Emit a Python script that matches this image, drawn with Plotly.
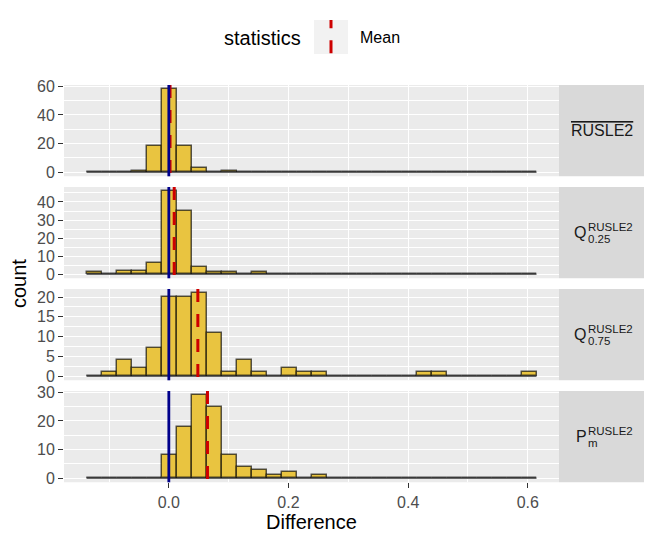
import plotly.graph_objects as go

# histogram bins (shared x scale)
bin_left = -0.1376
bin_width = 0.02507
n_bins = 30

panel_names = ["mean", "q25", "q75", "pm"]

counts_mean = [0, 0, 0, 1, 18, 58, 18, 3, 0, 1] + [0] * 20
counts_q25 = [1, 0, 2, 2, 6, 46, 35, 4, 1, 1, 0, 1] + [0] * 18
counts_q75 = [0, 1, 4, 2, 7, 20, 20, 21, 11, 1, 4, 1, 0, 2, 1, 1,
              0, 0, 0, 0, 0, 0, 1, 1, 0, 0, 0, 0, 0, 1]
counts_pm = [0, 0, 0, 0, 0, 8, 18, 29, 25, 8, 4, 3, 1, 2, 0, 1] + [0] * 14

mean_values = [0.002, 0.009, 0.0485, 0.0646]
reference_value = 0.0

y_dticks = [20, 10, 5, 10]
x_ticks = [0.0, 0.2, 0.4, 0.6]

all_counts = [counts_mean, counts_q25, counts_q75, counts_pm]
centers = [bin_left + (i + 0.5) * bin_width for i in range(n_bins)]
edges = [bin_left, bin_left + n_bins * bin_width]

# the page puts the figure 8px in from the corner, so the figure is
# made 8px smaller and positions below are given in window pixels
OFF = 8
W, H = 654 - OFF, 544 - OFF
FONT = "Liberation Sans"
panel_x0, panel_x1 = 64, 559
strip_x1 = 644
panel_top0, panel_h, panel_gap = 85, 91.3, 10.7


def px(x):
    return (x - OFF) / W


def py(y):
    return 1 - (y - OFF) / H


fig = go.Figure()

xr = edges[1] - edges[0]
x_range = [edges[0] - 0.05 * xr, edges[1] + 0.05 * xr]

for k, cnt in enumerate(all_counts):
    n = "" if k == 0 else str(k + 1)
    top = panel_top0 + k * (panel_h + panel_gap)
    dom = [py(top + panel_h), py(top)]
    ymax = max(cnt)

    # baseline formed by the empty bins
    fig.add_trace(go.Scatter(
        x=edges, y=[0, 0], mode="lines", xaxis="x" + n, yaxis="y" + n,
        line=dict(color="rgba(0,0,0,0.6)", width=1.5), hoverinfo="skip",
        showlegend=False))
    fig.add_trace(go.Bar(
        x=centers, y=cnt, width=bin_width, xaxis="x" + n, yaxis="y" + n,
        marker=dict(color="rgb(233,196,64)",
                    line=dict(color="rgba(0,0,0,0.65)", width=1.5)),
        showlegend=False))

    fig.update_layout({
        "xaxis" + n: dict(
            domain=[px(panel_x0), px(panel_x1)], range=x_range,
            anchor="y" + n, tickvals=x_ticks,
            tickformat=".1f", showticklabels=(k == 3),
            ticks="outside" if k == 3 else "", ticklen=5, tickwidth=1,
            tickcolor="#333333", showgrid=True, gridcolor="white",
            gridwidth=1.3, zeroline=False, showline=False, automargin=False,
            minor=dict(dtick=0.1, tick0=0, showgrid=True,
                       gridcolor="white", gridwidth=0.7),
            tickfont=dict(family=FONT, size=16, color="#4D4D4D")),
        "yaxis" + n: dict(
            domain=dom, range=[-0.05 * ymax, 1.05 * ymax], anchor="x" + n,
            dtick=y_dticks[k], tick0=0, ticks="outside", ticklen=5,
            tickwidth=1, tickcolor="#333333", showgrid=True,
            gridcolor="white", gridwidth=1.3, zeroline=False, automargin=False,
            minor=dict(dtick=y_dticks[k] / 2, tick0=0, showgrid=True,
                       gridcolor="white", gridwidth=0.7),
            tickfont=dict(family=FONT, size=16, color="#4D4D4D")),
    })

    # panel background and strip
    fig.add_shape(type="rect", xref="paper", yref="paper", layer="below",
                  x0=px(panel_x0), x1=px(panel_x1), y0=dom[0], y1=dom[1],
                  fillcolor="#EBEBEB", line_width=0)
    fig.add_shape(type="rect", xref="paper", yref="paper",
                  x0=px(panel_x1), x1=px(strip_x1), y0=dom[0], y1=dom[1],
                  fillcolor="#D9D9D9", line_width=0)

    # mean and zero lines
    fig.add_shape(type="line", xref="x" + n, yref="y" + n + " domain",
                  x0=mean_values[k], x1=mean_values[k], y0=1, y1=0,
                  line=dict(color="#CD0000", width=3, dash="13px,12px"))
    fig.add_shape(type="line", xref="x" + n, yref="y" + n + " domain",
                  x0=reference_value, x1=reference_value, y0=0, y1=1,
                  line=dict(color="#00008B", width=2.8))

    # strip labels
    cy = py(top + panel_h / 2)
    if k == 0:
        fig.add_annotation(
            x=px((panel_x1 + strip_x1) / 2), y=cy, xref="paper", yref="paper",
            text='<span style="text-decoration:overline">RUSLE2</span>',
            xanchor="center", yanchor="middle", showarrow=False,
            font=dict(family=FONT, size=16, color="#1A1A1A"))
    else:
        base = "Q" if k < 3 else "P"
        sub = ["", "0.25", "0.75", "m"][k]
        fig.add_annotation(
            x=px(572 if k < 3 else 574), y=cy, xref="paper", yref="paper",
            text=base, xanchor="left", yanchor="middle", showarrow=False,
            font=dict(family=FONT, size=16, color="#1A1A1A"))
        fig.add_annotation(
            x=px(586), y=cy + 6 / H, xref="paper", yref="paper",
            text="RUSLE2", xanchor="left", yanchor="middle", showarrow=False,
            font=dict(family=FONT, size=11.5, color="#1A1A1A"))
        fig.add_annotation(
            x=px(586), y=cy - 6 / H, xref="paper", yref="paper",
            text=sub, xanchor="left", yanchor="middle", showarrow=False,
            font=dict(family=FONT, size=11.5, color="#1A1A1A"))

# axis titles
fig.add_annotation(x=px((panel_x0 + panel_x1) / 2), y=py(522),
                   xref="paper", yref="paper", text="Difference",
                   xanchor="center", yanchor="middle", showarrow=False,
                   font=dict(family=FONT, size=20, color="black"))
fig.add_annotation(x=px(19), y=py(284), xref="paper", yref="paper",
                   text="count", textangle=-90, xanchor="center",
                   yanchor="middle", showarrow=False,
                   font=dict(family=FONT, size=20, color="black"))

# legend drawn by hand (vertical key)
fig.add_annotation(x=px(222), y=py(38), xref="paper", yref="paper",
                   text="statistics", xanchor="left", yanchor="middle",
                   showarrow=False,
                   font=dict(family=FONT, size=20, color="black"))
fig.add_shape(type="rect", xref="paper", yref="paper",
              x0=px(314), x1=px(348), y0=py(54), y1=py(20),
              fillcolor="#F2F2F2", line_width=0)
fig.add_shape(type="line", xref="paper", yref="paper",
              x0=px(331), x1=px(331), y0=py(53.3), y1=py(20),
              line=dict(color="#CD0000", width=3, dash="13px,12px"))
fig.add_annotation(x=px(358), y=py(38), xref="paper", yref="paper",
                   text="Mean", xanchor="left", yanchor="middle",
                   showarrow=False,
                   font=dict(family=FONT, size=16, color="black"))

fig.update_layout(
    template="none",
    width=W, height=H, margin=dict(l=0, r=0, t=0, b=0, pad=0),
    paper_bgcolor="white", plot_bgcolor="rgba(0,0,0,0)",
    bargap=0, showlegend=False, font=dict(family=FONT),
)

fig.write_html("out.html")
